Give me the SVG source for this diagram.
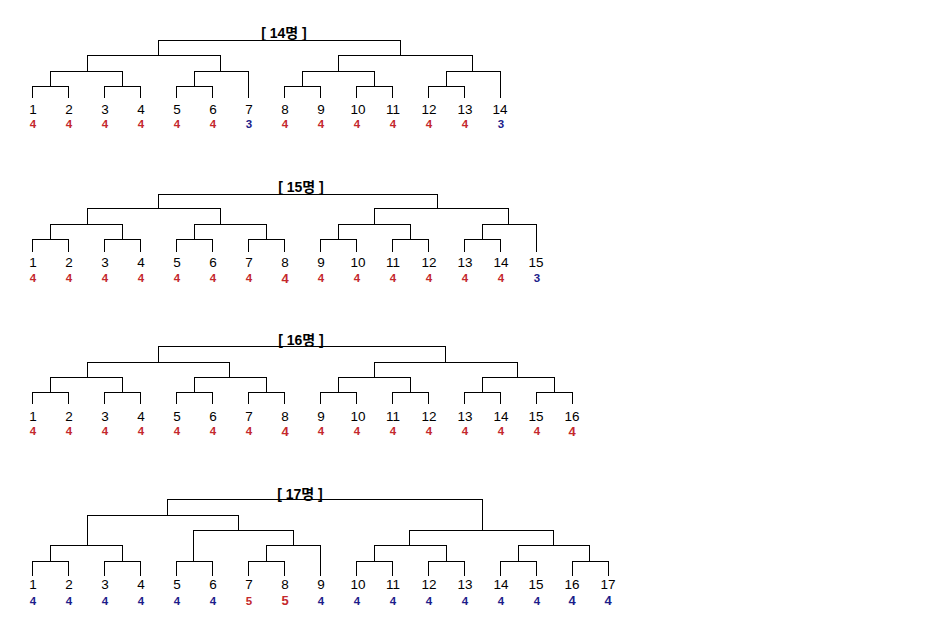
<svg xmlns="http://www.w3.org/2000/svg" width="952" height="625" viewBox="0 0 952 625">
<style>
.ln{fill:none;stroke:#000;stroke-width:1;shape-rendering:crispEdges}
.n{font-family:"Liberation Sans",Arial,sans-serif;font-size:13.5px;fill:#000;text-anchor:middle}
.s{font-family:"Liberation Sans",Arial,sans-serif;font-size:11.5px;font-weight:bold;text-anchor:middle}
.bg{font-size:13px}
.r{fill:#c4282c}
.b{fill:#1c1c8a}
.t{font-family:"Liberation Sans","Noto Sans CJK KR",sans-serif;font-size:14px;font-weight:bold;fill:#000;text-anchor:middle}
</style>
<rect width="952" height="625" fill="#fff"/>

<!-- Bracket 14 -->
<g id="bracket14">
<g id="b14-title"><text class="t" x="284" y="37.5">[ 14명 ]</text></g>
<g id="b14-connectors">
<path class="ln" d="M158 55V40H400V55"/>
<path class="ln" d="M87 71V55H220V71"/>
<path class="ln" d="M338 71V55H472V71"/>
<path class="ln" d="M50 86V71H122V86"/>
<path class="ln" d="M194 86V71H248V98"/>
<path class="ln" d="M302 86V71H374V86"/>
<path class="ln" d="M446 86V71H500V98"/>
<path class="ln" d="M32 98V86H68V98"/>
<path class="ln" d="M104 98V86H140V98"/>
<path class="ln" d="M176 98V86H212V98"/>
<path class="ln" d="M284 98V86H320V98"/>
<path class="ln" d="M356 98V86H392V98"/>
<path class="ln" d="M428 98V86H464V98"/>
</g>
<g id="b14-p1"><text class="n" x="33" y="114">1</text><text class="s r" x="33" y="128">4</text></g>
<g id="b14-p2"><text class="n" x="69" y="114">2</text><text class="s r" x="69" y="128">4</text></g>
<g id="b14-p3"><text class="n" x="105" y="114">3</text><text class="s r" x="105" y="128">4</text></g>
<g id="b14-p4"><text class="n" x="141" y="114">4</text><text class="s r" x="141" y="128">4</text></g>
<g id="b14-p5"><text class="n" x="177" y="114">5</text><text class="s r" x="177" y="128">4</text></g>
<g id="b14-p6"><text class="n" x="213" y="114">6</text><text class="s r" x="213" y="128">4</text></g>
<g id="b14-p7"><text class="n" x="249" y="114">7</text><text class="s b" x="249" y="128">3</text></g>
<g id="b14-p8"><text class="n" x="285" y="114">8</text><text class="s r" x="285" y="128">4</text></g>
<g id="b14-p9"><text class="n" x="321" y="114">9</text><text class="s r" x="321" y="128">4</text></g>
<g id="b14-p10"><text class="n" x="358" y="114">10</text><text class="s r" x="357" y="128">4</text></g>
<g id="b14-p11"><text class="n" x="393" y="114">11</text><text class="s r" x="393" y="128">4</text></g>
<g id="b14-p12"><text class="n" x="429" y="114">12</text><text class="s r" x="429" y="128">4</text></g>
<g id="b14-p13"><text class="n" x="465" y="114">13</text><text class="s r" x="465" y="128">4</text></g>
<g id="b14-p14"><text class="n" x="500" y="114">14</text><text class="s b" x="501" y="128">3</text></g>
</g>

<!-- Bracket 15 -->
<g id="bracket15">
<g id="b15-title"><text class="t" x="301" y="191.5">[ 15명 ]</text></g>
<g id="b15-connectors">
<path class="ln" d="M158 208V194H437V208"/>
<path class="ln" d="M87 224V208H220V224"/>
<path class="ln" d="M374 224V208H508V224"/>
<path class="ln" d="M50 239V224H122V239"/>
<path class="ln" d="M194 239V224H266V239"/>
<path class="ln" d="M338 239V224H410V239"/>
<path class="ln" d="M482 239V224H536V252"/>
<path class="ln" d="M32 252V239H68V252"/>
<path class="ln" d="M104 252V239H140V252"/>
<path class="ln" d="M176 252V239H212V252"/>
<path class="ln" d="M248 252V239H284V252"/>
<path class="ln" d="M320 252V239H356V252"/>
<path class="ln" d="M392 252V239H428V252"/>
<path class="ln" d="M464 252V239H500V252"/>
</g>
<g id="b15-p1"><text class="n" x="33" y="267">1</text><text class="s r" x="33" y="281.5">4</text></g>
<g id="b15-p2"><text class="n" x="69" y="267">2</text><text class="s r" x="69" y="281.5">4</text></g>
<g id="b15-p3"><text class="n" x="105" y="267">3</text><text class="s r" x="105" y="281.5">4</text></g>
<g id="b15-p4"><text class="n" x="141" y="267">4</text><text class="s r" x="141" y="281.5">4</text></g>
<g id="b15-p5"><text class="n" x="177" y="267">5</text><text class="s r" x="177" y="281.5">4</text></g>
<g id="b15-p6"><text class="n" x="213" y="267">6</text><text class="s r" x="213" y="281.5">4</text></g>
<g id="b15-p7"><text class="n" x="249" y="267">7</text><text class="s r" x="249" y="281.5">4</text></g>
<g id="b15-p8"><text class="n" x="285" y="267">8</text><text class="s r bg" x="285" y="282.5">4</text></g>
<g id="b15-p9"><text class="n" x="321" y="267">9</text><text class="s r" x="321" y="281.5">4</text></g>
<g id="b15-p10"><text class="n" x="358" y="267">10</text><text class="s r" x="357" y="281.5">4</text></g>
<g id="b15-p11"><text class="n" x="393" y="267">11</text><text class="s r" x="393" y="281.5">4</text></g>
<g id="b15-p12"><text class="n" x="429" y="267">12</text><text class="s r" x="429" y="281.5">4</text></g>
<g id="b15-p13"><text class="n" x="465" y="267">13</text><text class="s r" x="465" y="281.5">4</text></g>
<g id="b15-p14"><text class="n" x="501" y="267">14</text><text class="s r" x="501" y="281.5">4</text></g>
<g id="b15-p15"><text class="n" x="536" y="267">15</text><text class="s b" x="537" y="281.5">3</text></g>
</g>

<!-- Bracket 16 -->
<g id="bracket16">
<g id="b16-title"><text class="t" x="301" y="345">[ 16명 ]</text></g>
<g id="b16-connectors">
<path class="ln" d="M158 362V346H445V362"/>
<path class="ln" d="M87 377V362H229V377"/>
<path class="ln" d="M374 377V362H517V377"/>
<path class="ln" d="M50 392V377H122V392"/>
<path class="ln" d="M194 392V377H266V392"/>
<path class="ln" d="M338 392V377H410V392"/>
<path class="ln" d="M482 392V377H554V392"/>
<path class="ln" d="M32 404V392H68V404"/>
<path class="ln" d="M104 404V392H140V404"/>
<path class="ln" d="M176 404V392H212V404"/>
<path class="ln" d="M248 404V392H284V404"/>
<path class="ln" d="M320 404V392H356V404"/>
<path class="ln" d="M392 404V392H428V404"/>
<path class="ln" d="M464 404V392H500V404"/>
<path class="ln" d="M536 404V392H572V404"/>
</g>
<g id="b16-p1"><text class="n" x="33" y="420.5">1</text><text class="s r" x="33" y="435">4</text></g>
<g id="b16-p2"><text class="n" x="69" y="420.5">2</text><text class="s r" x="69" y="435">4</text></g>
<g id="b16-p3"><text class="n" x="105" y="420.5">3</text><text class="s r" x="105" y="435">4</text></g>
<g id="b16-p4"><text class="n" x="141" y="420.5">4</text><text class="s r" x="141" y="435">4</text></g>
<g id="b16-p5"><text class="n" x="177" y="420.5">5</text><text class="s r" x="177" y="435">4</text></g>
<g id="b16-p6"><text class="n" x="213" y="420.5">6</text><text class="s r" x="213" y="435">4</text></g>
<g id="b16-p7"><text class="n" x="249" y="420.5">7</text><text class="s r" x="249" y="435">4</text></g>
<g id="b16-p8"><text class="n" x="285" y="420.5">8</text><text class="s r bg" x="285" y="436">4</text></g>
<g id="b16-p9"><text class="n" x="321" y="420.5">9</text><text class="s r" x="321" y="435">4</text></g>
<g id="b16-p10"><text class="n" x="358" y="420.5">10</text><text class="s r" x="357" y="435">4</text></g>
<g id="b16-p11"><text class="n" x="393" y="420.5">11</text><text class="s r" x="393" y="435">4</text></g>
<g id="b16-p12"><text class="n" x="429" y="420.5">12</text><text class="s r" x="429" y="435">4</text></g>
<g id="b16-p13"><text class="n" x="465" y="420.5">13</text><text class="s r" x="465" y="435">4</text></g>
<g id="b16-p14"><text class="n" x="501" y="420.5">14</text><text class="s r" x="501" y="435">4</text></g>
<g id="b16-p15"><text class="n" x="536" y="420.5">15</text><text class="s r" x="537" y="435">4</text></g>
<g id="b16-p16"><text class="n" x="572" y="420.5">16</text><text class="s r bg" x="572" y="436">4</text></g>
</g>

<!-- Bracket 17 -->
<g id="bracket17">
<g id="b17-title"><text class="t" x="300" y="498.5">[ 17명 ]</text></g>
<g id="b17-connectors">
<path class="ln" d="M167 515V499H482V530"/>
<path class="ln" d="M87 545V515H238V530"/>
<path class="ln" d="M193 561V530H293V545"/>
<path class="ln" d="M409 545V530H553V545"/>
<path class="ln" d="M50 561V545H122V561"/>
<path class="ln" d="M266 561V545H320V576"/>
<path class="ln" d="M374 561V545H446V561"/>
<path class="ln" d="M518 561V545H589V561"/>
<path class="ln" d="M32 576V561H68V576"/>
<path class="ln" d="M104 576V561H140V576"/>
<path class="ln" d="M176 576V561H212V576"/>
<path class="ln" d="M248 576V561H284V576"/>
<path class="ln" d="M356 576V561H392V576"/>
<path class="ln" d="M428 576V561H464V576"/>
<path class="ln" d="M500 576V561H536V576"/>
<path class="ln" d="M572 576V561H608V576"/>
</g>
<g id="b17-p1"><text class="n" x="33" y="589">1</text><text class="s b" x="33" y="604.5">4</text></g>
<g id="b17-p2"><text class="n" x="69" y="589">2</text><text class="s b" x="69" y="604.5">4</text></g>
<g id="b17-p3"><text class="n" x="105" y="589">3</text><text class="s b" x="105" y="604.5">4</text></g>
<g id="b17-p4"><text class="n" x="141" y="589">4</text><text class="s b" x="141" y="604.5">4</text></g>
<g id="b17-p5"><text class="n" x="177" y="589">5</text><text class="s b" x="177" y="604.5">4</text></g>
<g id="b17-p6"><text class="n" x="213" y="589">6</text><text class="s b" x="213" y="604.5">4</text></g>
<g id="b17-p7"><text class="n" x="249" y="589">7</text><text class="s r" x="249" y="604.5">5</text></g>
<g id="b17-p8"><text class="n" x="285" y="589">8</text><text class="s r bg" x="285" y="604.5">5</text></g>
<g id="b17-p9"><text class="n" x="321" y="589">9</text><text class="s b" x="321" y="604.5">4</text></g>
<g id="b17-p10"><text class="n" x="358" y="589">10</text><text class="s b" x="357" y="604.5">4</text></g>
<g id="b17-p11"><text class="n" x="393" y="589">11</text><text class="s b" x="393" y="604.5">4</text></g>
<g id="b17-p12"><text class="n" x="429" y="589">12</text><text class="s b" x="429" y="604.5">4</text></g>
<g id="b17-p13"><text class="n" x="465" y="589">13</text><text class="s b" x="465" y="604.5">4</text></g>
<g id="b17-p14"><text class="n" x="501" y="589">14</text><text class="s b" x="501" y="604.5">4</text></g>
<g id="b17-p15"><text class="n" x="536" y="589">15</text><text class="s b" x="537" y="604.5">4</text></g>
<g id="b17-p16"><text class="n" x="572" y="589">16</text><text class="s b bg" x="572" y="604.5">4</text></g>
<g id="b17-p17"><text class="n" x="608" y="589">17</text><text class="s b bg" x="608" y="604.5">4</text></g>
</g>
</svg>
